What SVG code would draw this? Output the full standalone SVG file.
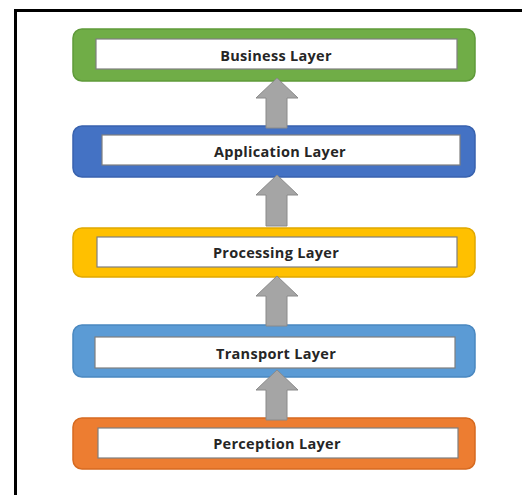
<svg xmlns="http://www.w3.org/2000/svg" width="522" height="495" viewBox="0 0 522 495">
  <style>
    .outer { stroke-width: 1.5; }
    .inner { fill: #ffffff; stroke: #7f7f7f; stroke-width: 1.2; }
    .label { font-family: "Open Sans", "Liberation Sans", sans-serif; font-weight: 700; font-size: 14.5px; letter-spacing: 0.3px; fill: #262626; text-anchor: middle; dominant-baseline: central; }
    .arrow { fill: #a5a5a5; stroke: #8a8a8a; stroke-width: 1; }
  </style>
  <rect x="0" y="0" width="522" height="495" fill="#ffffff"/>
  <!-- frame -->
  <rect x="15.5" y="10.5" width="520" height="500" fill="none" stroke="#000000" stroke-width="3"/>

  <g id="business">
    <rect class="outer" x="73" y="29" width="402" height="52" rx="9" fill="#70ad47" stroke="#5f9a3a"/>
    <rect class="inner" x="96" y="39" width="361" height="30"/>
    <text class="label" x="276" y="55">Business Layer</text>
  </g>
  <g id="application">
    <rect class="outer" x="73" y="126" width="402" height="51" rx="9" fill="#4472c4" stroke="#3862ae"/>
    <rect class="inner" x="102" y="135" width="358" height="30"/>
    <text class="label" x="280" y="151">Application Layer</text>
  </g>
  <g id="processing">
    <rect class="outer" x="73" y="228" width="402" height="49" rx="9" fill="#ffc000" stroke="#e0a800"/>
    <rect class="inner" x="97" y="237" width="360" height="30"/>
    <text class="label" x="276" y="252">Processing Layer</text>
  </g>
  <g id="transport">
    <rect class="outer" x="73" y="325" width="402" height="52" rx="9" fill="#5b9bd5" stroke="#4a88c0"/>
    <rect class="inner" x="95" y="337" width="360" height="31"/>
    <text class="label" x="276" y="353">Transport Layer</text>
  </g>
  <g id="perception">
    <rect class="outer" x="73" y="418" width="402" height="51" rx="9" fill="#ed7d31" stroke="#d66a20"/>
    <rect class="inner" x="98" y="428" width="360" height="30"/>
    <text class="label" x="277" y="443">Perception Layer</text>
  </g>

  <g id="connectors">
    <polygon class="arrow" points="277,78 298,98 287,98 287,128 266,128 266,98 256,98"/>
    <polygon class="arrow" points="277,175 298,195 287,195 287,226 266,226 266,195 256,195"/>
    <polygon class="arrow" points="277,276 298,296 287,296 287,326 266,326 266,296 256,296"/>
    <polygon class="arrow" points="277,370 298,390 287,390 287,420 266,420 266,390 256,390"/>
  </g>
</svg>
